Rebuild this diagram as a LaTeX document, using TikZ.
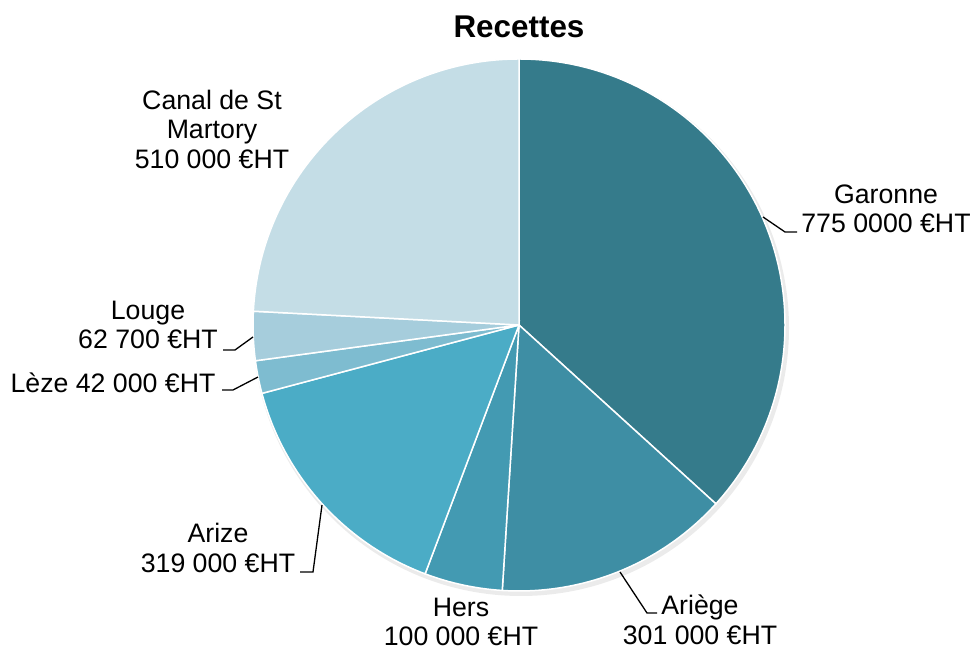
\documentclass[tikz,border=0pt]{standalone}
\usepackage{fontspec}
\setmainfont{Liberation Sans}
\definecolor{garonne}{RGB}{53,123,139}
\definecolor{ariege}{RGB}{62,142,164}
\definecolor{hers}{RGB}{67,154,178}
\definecolor{arize}{RGB}{75,172,198}
\definecolor{leze}{RGB}{126,188,208}
\definecolor{louge}{RGB}{166,205,220}
\definecolor{canal}{RGB}{196,221,230}
\begin{document}
\begin{tikzpicture}[x=1pt,y=1pt]
	\tikzstyle{lbl} = [inner sep=0, align=center, font=\fontsize{26.7}{29.5}\selectfont]
	\tikzstyle{title} = [inner sep=0, font=\fontsize{31.4}{34}\selectfont\bfseries]
	\tikzstyle{slice} = [draw=white, line width=1.5]
	\tikzstyle{leader} = [draw, line width=1.3, black]

	\useasboundingbox (0,0) rectangle (975,655);
	\node [title] (title) at (519,628) {Recettes};

	% pie, clockwise from the top
	\coordinate (c) at (519,330);
	\fill [black!8] (521,327) circle (268);
	\filldraw [slice, fill=garonne] (c) -- ++(90:266) arc (90:-42.25:266) -- cycle;
	\filldraw [slice, fill=ariege] (c) -- ++(-42.25:266) arc (-42.25:-93.61:266) -- cycle;
	\filldraw [slice, fill=hers] (c) -- ++(-93.61:266) arc (-93.61:-110.67:266) -- cycle;
	\filldraw [slice, fill=arize] (c) -- ++(-110.67:266) arc (-110.67:-165.10:266) -- cycle;
	\filldraw [slice, fill=leze] (c) -- ++(-165.10:266) arc (-165.10:-172.27:266) -- cycle;
	\filldraw [slice, fill=louge] (c) -- ++(-172.27:266) arc (-172.27:-182.97:266) -- cycle;
	\filldraw [slice, fill=canal] (c) -- ++(-182.97:266) arc (-182.97:-270:266) -- cycle;

	% labels
	\node [lbl] (garonne) at (886,446) {Garonne\\775 0000 €HT};
	\node [lbl] (ariege) at (700,35) {Ariège\\301 000 €HT};
	\node [lbl] (hers) at (461,33) {Hers\\100 000 €HT};
	\node [lbl] (arize) at (218,107) {Arize\\319 000 €HT};
	\node [lbl] (leze) at (113,272) {Lèze 42 000 €HT};
	\node [lbl] (louge) at (148,330) {Louge\\62 700 €HT};
	\node [lbl] (canal) at (212,526) {Canal de St\\Martory\\510 000 €HT};

	% leader lines
	\coordinate (g1) at (763,438);
	\coordinate (g2) at (785,423);
	\coordinate (g3) at (797,423);
	\draw [leader] (g1) -- (g2) -- (g3);
	\coordinate (a1) at (620,83);
	\coordinate (a2) at (647,42);
	\coordinate (a3) at (657,42);
	\draw [leader] (a1) -- (a2) -- (a3);
	\coordinate (z1) at (322,150);
	\coordinate (z2) at (313,83);
	\coordinate (z3) at (300,83);
	\draw [leader] (z1) -- (z2) -- (z3);
	\coordinate (l1) at (258,278);
	\coordinate (l2) at (233,265);
	\coordinate (l3) at (222,265);
	\draw [leader] (l1) -- (l2) -- (l3);
	\coordinate (o1) at (253,318);
	\coordinate (o2) at (235,305);
	\coordinate (o3) at (223,305);
	\draw [leader] (o1) -- (o2) -- (o3);
\end{tikzpicture}
\end{document}
